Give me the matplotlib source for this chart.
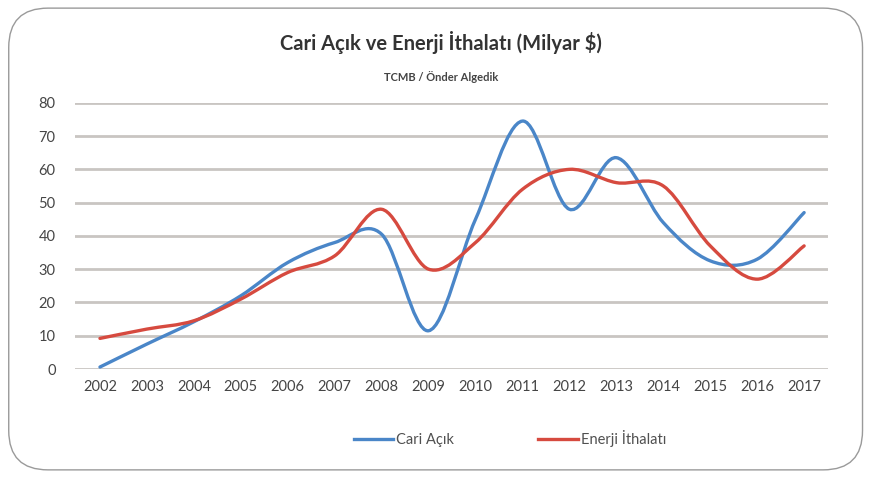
import numpy as np
import matplotlib
matplotlib.use('Agg')
import matplotlib.pyplot as plt
from matplotlib.path import Path
from matplotlib.patches import PathPatch, FancyBboxPatch
from matplotlib.lines import Line2D

years = [str(y) for y in range(2002, 2018)]
cari_acik = [0.6, 7.5, 14.2, 22, 32, 38, 40.5, 11.5, 45, 74.5, 48, 63.5, 44, 32.5, 33, 47]
enerji_ithalati = [9.2, 12, 14.5, 21, 29, 34, 48, 30, 38, 54, 60, 56, 55, 37, 27, 37]

blue = '#4a86c8'
red = '#d64a3f'

plt.rcParams['font.family'] = ['Lato', 'DejaVu Sans']


def smooth_path(xs, ys):
    # Excel-like smoothing: cubic bezier with catmull-rom control points
    xs = np.asarray(xs, float)
    ys = np.asarray(ys, float)
    pts = np.column_stack([xs, ys])
    verts = [pts[0]]
    codes = [Path.MOVETO]
    n = len(pts)
    for i in range(n - 1):
        p0 = pts[i - 1] if i > 0 else pts[i]
        p1 = pts[i]
        p2 = pts[i + 1]
        p3 = pts[i + 2] if i + 2 < n else pts[i + 1]
        c1 = p1 + (p2 - p0) / 6.0
        c2 = p2 - (p3 - p1) / 6.0
        verts += [c1, c2, p2]
        codes += [Path.CURVE4] * 3
    return Path(verts, codes)


fig = plt.figure(figsize=(8.73, 4.78), dpi=100)

# rounded frame
frame = FancyBboxPatch((0.01, 0.017), 0.978, 0.966, boxstyle='round,pad=0,rounding_size=0.045',
                       transform=fig.transFigure, facecolor='white', edgecolor='#9a9a9a',
                       linewidth=1.0, mutation_aspect=873 / 478, zorder=-5)
fig.patches.append(frame)

ax = fig.add_axes([0.086, 0.228, 0.862, 0.557])
ax.set_facecolor('none')
x = np.arange(len(years))
ax.set_xlim(-0.53, 15.5)
ax.set_ylim(0, 80)
ax.set_yticks(range(0, 90, 10))
ax.set_xticks(x)
ax.set_xticklabels(years)
ax.grid(axis='y', color='#c9c5c2', linewidth=2)
ax.set_axisbelow(True)
for s in ax.spines.values():
    s.set_visible(False)
ax.tick_params(length=0, labelsize=10.5, labelcolor='#454545', pad=8)
ax.tick_params(axis='y', pad=14)

for ys, c in [(cari_acik, blue), (enerji_ithalati, red)]:
    ax.add_patch(PathPatch(smooth_path(x, ys), facecolor='none', edgecolor=c,
                           linewidth=2.4, capstyle='round', clip_on=False))

fig.text(0.505, 0.912, 'Cari Açık ve Enerji İthalatı (Milyar $)', ha='center', va='center',
         fontsize=14.5, fontweight='bold', color='#333333')
fig.text(0.505, 0.838, 'TCMB / Önder Algedik', ha='center', va='center',
         fontsize=8, fontweight='bold', color='#444444')

handles = [Line2D([], [], color=blue, linewidth=2.4), Line2D([], [], color=red, linewidth=2.4)]
fig.legend(handles, ['Cari Açık', 'Enerji İthalatı'], loc='center', bbox_to_anchor=(0.584, 0.083),
           ncol=2, frameon=False, fontsize=10.5, handlelength=2.7, handletextpad=0.2,
           columnspacing=5.8, labelcolor='#505050')

fig.savefig('out.png', dpi=100)
